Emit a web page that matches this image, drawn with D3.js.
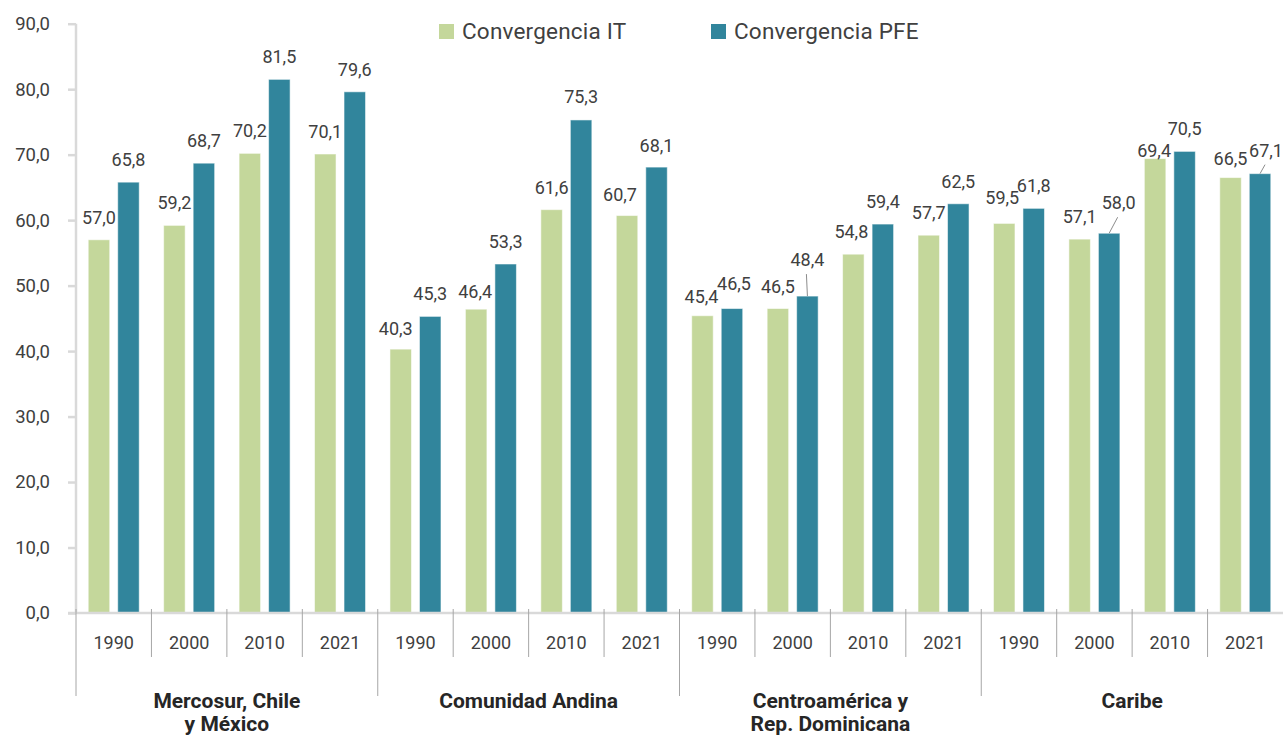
<!DOCTYPE html>
<html>
<head>
<meta charset="utf-8">
<script src="https://cdn.jsdelivr.net/npm/d3@7"></script>
<style>
  body { margin: 0; background: #fff; }
  svg { display: block; font-family: Roboto, "Noto Sans", sans-serif; }
</style>
</head>
<body>
<svg width="1283" height="735"></svg>
<script>
// regions and years (x axis)
var regions = [['Mercosur, Chile', 'y México'], ['Comunidad Andina'], ['Centroamérica y', 'Rep. Dominicana'], ['Caribe']];
var years = ['1990', '2000', '2010', '2021'];
var seriesNames = ['Convergencia IT', 'Convergencia PFE'];
var colors = ['#c4d79b', '#31859c'];

// values, one per region/year, in order
var convIT  = [57.0, 59.2, 70.2, 70.1, 40.3, 46.4, 61.6, 60.7, 45.4, 46.5, 54.8, 57.7, 59.5, 57.1, 69.4, 66.5];
var convPFE = [65.8, 68.7, 81.5, 79.6, 45.3, 53.3, 75.3, 68.1, 46.5, 48.4, 59.4, 62.5, 61.8, 58.0, 70.5, 67.1];

var yTicks = [0, 10, 20, 30, 40, 50, 60, 70, 80, 90];

// hand moved data labels, like in the original [dx, dy, leader line]
var nudgeIT  = [[0,0],[0,0],[0,0],[0,0],[-5,2],[-1,5],[0,0],[-7,1],[-1,3],[0,0],[-2,0],[0,0],[-2,-3],[0,0],[-1,14],[0,3]];
var nudgePFE = [[0,0],[0,0],[0,0],[0,0],[0,0],[0,0],[0,-1],[0,1],[2,-3],[0,-14,1],[0,0],[0,0],[0,0],[9.5,-8,1],[0,0],[6,-1,1]];

var svg = d3.select('svg');
var mLeft = 76, mRight = 1283, mTop = 23.7, mBottom = 613;
var textColor = '#404040';
var fmt = function(v) { return d3.format('.1f')(v).replace('.', ','); };

// one slot per region/year
var slots = [];
regions.forEach(function(r, ri) {
  years.forEach(function(yr, yi) {
    slots.push({ key: ri + '-' + yr, region: ri, year: yr, it: convIT[ri * 4 + yi], pfe: convPFE[ri * 4 + yi], i: ri * 4 + yi });
  });
});

var x = d3.scaleBand()
  .domain(slots.map(d => d.key))
  .range([mLeft, mRight])
  .padding(0);

var xInner = d3.scaleBand()
  .domain([0, 1])
  .range([0, x.bandwidth()])
  .paddingInner(0.271)
  .paddingOuter(0.414);

var y = d3.scaleLinear()
  .domain([0, 90])
  .range([mBottom, mTop]);

// y axis
var yAxis = svg.append('g')
  .attr('transform', 'translate(' + mLeft + ',0)')
  .call(d3.axisLeft(y).tickValues(yTicks).tickSize(8).tickFormat(fmt));
yAxis.select('.domain').attr('stroke', '#d9d9d9').attr('stroke-width', 2.5).attr('d', 'M0,' + mTop + 'V' + mBottom);
yAxis.selectAll('.tick line').attr('stroke', '#d9d9d9').attr('stroke-width', 2.5);
yAxis.selectAll('.tick text')
  .attr('x', -26)
  .attr('fill', textColor)
  .style('font-size', '18.5px')
  .style('font-family', 'Roboto');

// bars
var groups = svg.append('g').selectAll('g')
  .data(slots).enter()
  .append('g')
  .attr('transform', d => 'translate(' + x(d.key) + ',0)');

groups.selectAll('rect')
  .data(d => [d.it, d.pfe]).enter()
  .append('rect')
  .attr('x', (v, i) => xInner(i))
  .attr('width', xInner.bandwidth())
  .attr('y', v => y(v))
  .attr('height', v => y(0) - y(v))
  .attr('fill', (v, i) => colors[i])
  .attr('stroke', 'rgba(255,255,255,0.55)')
  .attr('stroke-width', 1);

// x axis baseline
svg.append('line')
  .attr('x1', mLeft - 8).attr('x2', mRight)
  .attr('y1', y(0)).attr('y2', y(0))
  .attr('stroke', '#d9d9d9').attr('stroke-width', 2.5);

// separators between years and regions
slots.forEach(function(d, i) {
  var first = i % 4 === 0;
  svg.append('line')
    .attr('x1', x(d.key)).attr('x2', x(d.key))
    .attr('y1', 609).attr('y2', first ? 696 : 657)
    .attr('stroke', '#a6a6a6').attr('stroke-width', 1);
});

// year labels
svg.append('g').selectAll('text')
  .data(slots).enter()
  .append('text')
  .attr('x', d => x(d.key) + x.bandwidth() / 2)
  .attr('y', 649)
  .attr('text-anchor', 'middle')
  .attr('fill', textColor)
  .style('font-size', '18px')
  .text(d => d.year);

// region labels
regions.forEach(function(lines, ri) {
  var x0 = x(slots[ri * 4].key);
  var x1 = x(slots[ri * 4 + 3].key) + x.bandwidth();
  var t = svg.append('text')
    .attr('x', (x0 + x1) / 2)
    .attr('y', 708)
    .attr('text-anchor', 'middle')
    .attr('fill', '#262626')
    .style('font-size', '21px')
    .style('font-weight', 'bold');
  lines.forEach(function(l, li) {
    t.append('tspan')
      .attr('x', (x0 + x1) / 2)
      .attr('dy', li === 0 ? 0 : 23)
      .text(l);
  });
});

// data labels
var labels = svg.append('g');
slots.forEach(function(d) {
  [d.it, d.pfe].forEach(function(v, si) {
    var n = (si === 0 ? nudgeIT : nudgePFE)[d.i];
    var bx = x(d.key) + xInner(si) + xInner.bandwidth() / 2;
    var lx = bx + n[0];
    var ly = y(v) - 16 + n[1];
    if (n[2]) {
      labels.append('line')
        .attr('x1', bx).attr('y1', y(v))
        .attr('x2', lx - 1).attr('y2', ly + 8)
        .attr('stroke', '#8c8c8c').attr('stroke-width', 1);
    }
    labels.append('text')
      .attr('x', lx)
      .attr('y', ly)
      .attr('text-anchor', 'middle')
      .attr('fill', textColor)
      .style('font-size', '18px')
      .text(fmt(v));
  });
});

// legend
var legend = svg.append('g');
var legendX = [439, 711];
seriesNames.forEach(function(name, i) {
  legend.append('rect')
    .attr('x', legendX[i]).attr('y', 24)
    .attr('width', 15).attr('height', 15)
    .attr('fill', colors[i]);
  legend.append('text')
    .attr('x', legendX[i] + 23)
    .attr('y', 39)
    .attr('fill', textColor)
    .style('font-size', '22.5px')
    .style('letter-spacing', '0.2px')
    .text(name);
});
</script>
</body>
</html>
